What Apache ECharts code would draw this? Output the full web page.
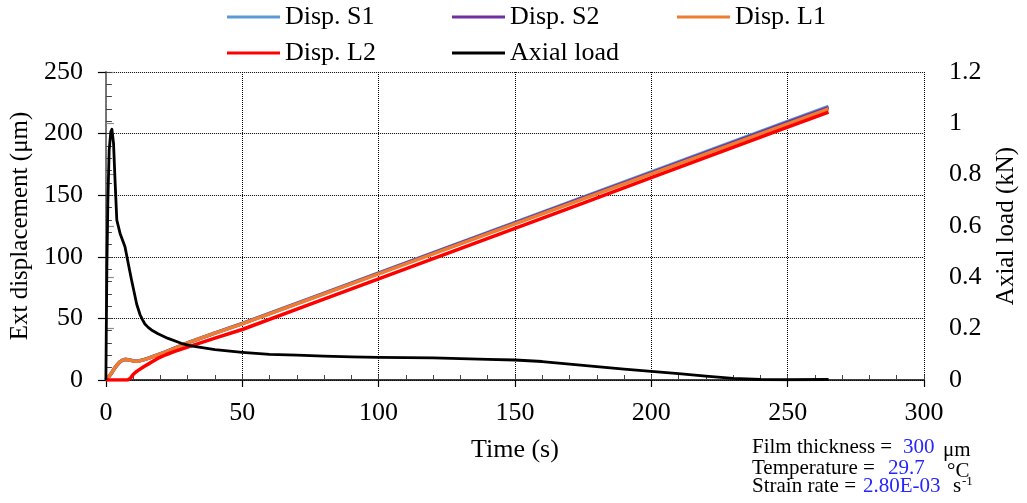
<!DOCTYPE html>
<html><head><meta charset="utf-8">
<script src="https://cdn.jsdelivr.net/npm/echarts@6/dist/echarts.min.js"></script>
<style>html,body{margin:0;padding:0;background:#fff}#c{width:1027px;height:503px}</style>
</head><body><div id="c"></div>
<script>
// ---- data ----
const tDisp = [0,1,2,3,4,5,6,7,8,9,10,11,12,14,16,19,22,25,31,40,50,75,100,125,150,175,200,225,250,265];
const dispS1 = [0,2.5,5.5,9,12,14.5,16,16.8,16.6,16.1,15.6,15.3,15.4,16.6,18.1,20.5,23,25.7,31.2,38.3,46,66.5,87,107.5,128,148.5,169,189.5,210,222];
const dispS2 = [0,2.4,5.4,8.9,11.9,14.4,15.9,16.7,16.5,16,15.5,15.2,15.3,16.5,18,20.4,22.9,25.6,31,38.1,45.7,66.1,86.5,107,127.4,147.8,168.2,188.6,209,221];
const dispL1 = [0,2.5,5.5,9,12,14.5,16,16.8,16.5,16,15.5,15.2,15.3,16.5,18,20.3,22.8,25.5,31,38,45.5,65.8,86.1,106.4,126.7,147,167.3,187.6,207.9,220];
const dispL2 = [0,0,0,0,0,0,0,0,0,1.5,4.5,6.5,8,11,13.5,17.5,20.5,23,27.5,34,41,61.5,82,102.6,123.1,143.6,164.2,184.7,205.2,217.5];
const tLoad = [0,0.15,0.36,0.73,1.2,1.8,2.2,2.8,3.4,4.0,5.2,7.0,8.2,9.4,10.6,11.3,12.5,13.4,14.3,15.5,16.7,19.1,22.8,27.6,31.2,40,50,60,70,80,90,100,110,120,130,140,150,160,170,180,190,200,210,220,230,240,250,265];
const axialLoad = [0,0.2,0.44,0.70,0.896,0.967,0.977,0.922,0.766,0.623,0.571,0.519,0.454,0.39,0.33,0.295,0.255,0.235,0.218,0.205,0.195,0.18,0.162,0.143,0.133,0.118,0.108,0.10,0.097,0.093,0.09,0.088,0.087,0.086,0.083,0.08,0.078,0.072,0.062,0.052,0.042,0.034,0.025,0.015,0.006,0.002,0.001,0.002];
const seriesNames = ['Disp. S1','Disp. S2','Disp. L1','Disp. L2','Axial load'];
const xTitle = 'Time (s)';
const yTitle = 'Ext displacement (μm)';
const y2Title = 'Axial load (kN)';

// ---- chart ----
const FONT = '"Liberation Serif","Times New Roman",serif';
const colors = ['#5B9BD5','#7030A0','#ED7D31','#FF0000','#000000'];
const pair = (t, v) => t.map((x, i) => [x, v[i]]);
const chart = echarts.init(document.getElementById('c'), null, {renderer:'canvas'});
const legendPos = [[227,4],[452,4],[677,4],[227,40],[452,40]];
const legends = seriesNames.map((n, i) => ({
  data:[n], left:legendPos[i][0], top:legendPos[i][1], icon:'rect', itemWidth:53, itemHeight:3,
  itemGap:5, padding:0, textStyle:{fontFamily:FONT, fontSize:26, color:'#000'}
}));
const dispSets = [dispS1, dispS2, dispL1, dispL2];
const series = dispSets.map((d, i) => ({
  name: seriesNames[i], type:'line', xAxisIndex:0, yAxisIndex:0, showSymbol:false, symbol:'none',
  data: pair(tDisp, d), lineStyle:{width:3.5, color:colors[i]}, itemStyle:{color:colors[i]}, z:2+i, animation:false
}));
series.push({
  name: seriesNames[4], type:'line', xAxisIndex:0, yAxisIndex:1, showSymbol:false, symbol:'none',
  data: pair(tLoad, axialLoad), lineStyle:{width:2.8, color:'#000', join:'round'}, itemStyle:{color:'#000'}, z:10, animation:false
});
const axisLabel = {fontFamily:FONT, fontSize:26, color:'#000'};
const dotted = {show:true, lineStyle:{color:'#000', type:[1,1], width:1}};
chart.setOption({
  animation:false,
  legend: legends,
  grid:{left:104, right:96, top:72, bottom:123, containLabel:false},
  xAxis:[
    {type:'value', min:0, max:300, interval:50, position:'bottom',
     name:xTitle, nameLocation:'middle', nameGap:57, nameTextStyle:{fontFamily:FONT, fontSize:26, color:'#000'},
     axisLine:{show:true, lineStyle:{color:'#000', width:1.5}},
     axisTick:{show:true, inside:false, length:7, lineStyle:{color:'#000', width:1.2}},
     axisLabel:Object.assign({margin:20}, axisLabel),
     splitLine:dotted},
    {type:'value', min:0, max:300, interval:10, position:'bottom',
     axisLine:{show:false}, axisTick:{show:true, inside:true, length:5, lineStyle:{color:'#444', width:1}},
     axisLabel:{show:false}, splitLine:{show:false}}
  ],
  yAxis:[
    {type:'value', min:0, max:250, interval:50, position:'left',
     name:yTitle, nameLocation:'middle', nameRotate:90, nameGap:72, nameTextStyle:{fontFamily:FONT, fontSize:25, color:'#000'},
     axisLine:{show:true, lineStyle:{color:'#000', width:1.5}},
     axisTick:{show:true, inside:false, length:8, lineStyle:{color:'#000', width:1.2}},
     axisLabel:Object.assign({margin:23}, axisLabel),
     splitLine:dotted},
    {type:'value', min:0, max:1.2, interval:0.2, position:'right',
     name:y2Title, nameLocation:'middle', nameRotate:90, nameGap:70, nameTextStyle:{fontFamily:FONT, fontSize:25, color:'#000'},
     axisLine:{show:true, lineStyle:{color:'#8c8c8c', width:1.5}},
     axisTick:{show:true, inside:false, length:8, lineStyle:{color:'#8c8c8c', width:1.2}},
     axisLabel:Object.assign({margin:25, formatter:v => String(+v.toFixed(1))}, axisLabel),
     splitLine:{show:false}},
    {type:'value', min:0, max:250, interval:10, position:'left',
     axisLine:{show:false}, axisTick:{show:true, inside:true, length:6, lineStyle:{color:'#444', width:1}},
     axisLabel:{show:false}, splitLine:{show:false}}
  ],
  series: series,
  graphic:[
    {type:'text', left:752, top:437, style:{text:'Film thickness = ', font:'21px '+FONT, fill:'#000'}},
    {type:'text', left:903, top:437, style:{text:'300', font:'21px '+FONT, fill:'#2626ff'}},
    {type:'text', left:943, top:440, style:{text:'μm', font:'21px '+FONT, fill:'#000'}},
    {type:'text', left:752, top:458, style:{text:'Temperature = ', font:'21px '+FONT, fill:'#000'}},
    {type:'text', left:888, top:458, style:{text:'29.7', font:'21px '+FONT, fill:'#2626ff'}},
    {type:'text', left:947, top:461, style:{text:'°C', font:'21px '+FONT, fill:'#000'}},
    {type:'text', left:752, top:476, style:{text:'Strain rate = ', font:'21px '+FONT, fill:'#000'}},
    {type:'text', left:863, top:476, style:{text:'2.80E-03', font:'21px '+FONT, fill:'#2626ff'}},
    {type:'text', left:953, top:476, style:{text:'s', font:'21px '+FONT, fill:'#000'}},
    {type:'text', left:962, top:475, style:{text:'-1', font:'13px '+FONT, fill:'#000'}}
  ]
});
</script></body></html>
